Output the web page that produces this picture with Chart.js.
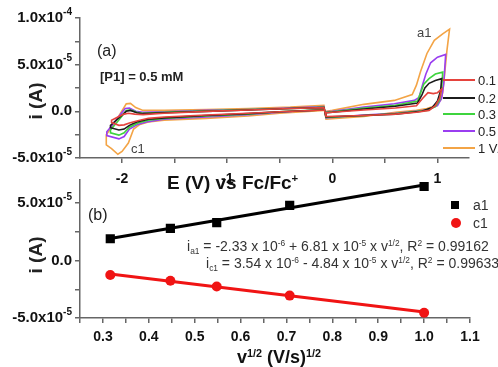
<!DOCTYPE html>
<html>
<head>
<meta charset="utf-8">
<script src="https://cdn.jsdelivr.net/npm/chart.js@4.4.1/dist/chart.umd.min.js"></script>
<style>
  html, body { margin: 0; padding: 0; background: #fff; width: 498px; height: 367px; overflow: hidden; }
  #wrap { position: relative; width: 498px; height: 367px; font-family: "Liberation Sans", Arial, sans-serif; color: #222; }
  canvas { position: absolute; left: 0; }
  .t { position: absolute; white-space: nowrap; line-height: 1; transform: translateY(-50%); }
  .t sup { font-size: 0.6em; line-height: 0; vertical-align: 0.6em; }
  .t sub { font-size: 0.6em; line-height: 0; vertical-align: -0.35em; }
  .ytitle { position: absolute; font-weight: bold; font-size: 19px; white-space: nowrap; line-height: 1; transform: translate(-50%, -50%) rotate(-90deg); }
  .ln { position: absolute; width: 32px; height: 2px; }
  .mk { position: absolute; }
</style>
</head>
<body>
<div id="wrap">
  <canvas id="cvChart" width="498" height="190" style="top:0"></canvas>
  <canvas id="fitChart" width="498" height="197" style="top:170px"></canvas>

  <!-- panel (a) texts -->
  <div class="ytitle" style="left:35px;top:101px">i (A)</div>
  <div class="t" style="left:97px;top:51px;font-size:16px">(a)</div>
  <div class="t" style="left:100px;top:76px;font-size:13px;font-weight:bold">[P1] = 0.5 mM</div>
  <div class="t" style="left:417px;top:32px;font-size:13px;color:#444">a1</div>
  <div class="t" style="left:131px;top:148px;font-size:13px;color:#444">c1</div>
  <div class="t" style="left:167px;top:182px;font-size:19px;font-weight:bold;color:#111">E (V) vs Fc/Fc<sup>+</sup></div>
  <div id="legendA"></div>

  <!-- panel (b) texts -->
  <div class="ytitle" style="left:35px;top:255px">i (A)</div>
  <div class="t" style="left:88px;top:215px;font-size:16px">(b)</div>
  <div class="t" style="left:187px;top:246px;font-size:14px;color:#333">i<sub>a1</sub> = -2.33 x 10<sup>-6</sup> + 6.81 x 10<sup>-5</sup> x v<sup>1/2</sup>, R<sup>2</sup> = 0.99162</div>
  <div class="t" style="left:206px;top:263px;font-size:14px;color:#333">i<sub>c1</sub> = 3.54 x 10<sup>-6</sup> - 4.84 x 10<sup>-5</sup> x v<sup>1/2</sup>, R<sup>2</sup> = 0.99633</div>
  <div class="mk" style="left:451px;top:201px;width:8px;height:8px;background:#000"></div>
  <div class="t" style="left:473px;top:205px;font-size:14px;color:#333">a1</div>
  <div class="mk" style="left:451px;top:218px;width:10px;height:10px;border-radius:50%;background:#f01414"></div>
  <div class="t" style="left:473px;top:223px;font-size:14px;color:#333">c1</div>
  <div class="t" style="left:237px;top:357px;font-size:18px;font-weight:bold;color:#111">v<sup>1/2</sup> (V/s)<sup>1/2</sup></div>
</div>

<script>
// scan rates (V/s) and their CV loops, potential in V vs Fc/Fc+, current in units of 1e-5 A
const scanLabels = ['0.1', '0.2', '0.3', '0.5', '1 V/s'];

const potential01 = [-0.08, -0.5, -0.8, -1.2, -1.6, -1.75, -1.85, -1.93, -1.98, -2.03, -2.10,
  -2.10, -2.04, -1.98, -1.94, -1.88, -1.8, -1.6, -1.2, -0.8, -0.4, -0.08,
  -0.06, 0.3, 0.6, 0.8, 0.92, 0.98, 1.02, 1.04,
  1.0, 0.96, 0.91, 0.86, 0.8, 0.6, 0.3, -0.06, -0.06];
const current01 = [0.15, -0.05, -0.2, -0.4, -0.6, -0.75, -1.0, -1.25, -1.45, -1.5, -1.2,
  -0.95, -0.6, -0.3, -0.2, -0.3, -0.35, -0.2, 0.0, 0.15, 0.3, 0.4,
  -0.55, -0.45, -0.3, -0.1, 0.1, 0.6, 1.4, 2.4,
  2.0, 1.9, 2.0, 1.4, 0.6, 0.35, 0.15, -0.15, -0.55];

const potential02 = [-0.08, -0.5, -0.8, -1.2, -1.6, -1.75, -1.85, -1.93, -1.98, -2.03, -2.11,
  -2.11, -2.05, -2.0, -1.96, -1.92, -1.86, -1.8, -1.6, -1.2, -0.8, -0.4, -0.08,
  -0.06, 0.3, 0.6, 0.85, 0.95, 1.0, 1.03, 1.04,
  0.98, 0.92, 0.88, 0.85, 0.81, 0.6, 0.3, 0.0, -0.06, -0.06];
const current02 = [0.15, -0.05, -0.25, -0.45, -0.7, -0.85, -1.1, -1.5, -1.9, -2.0, -1.75,
  -1.5, -0.9, -0.4, 0.0, 0.1, -0.15, -0.25, -0.15, 0.0, 0.15, 0.3, 0.4,
  -0.6, -0.45, -0.3, 0.0, 0.4, 1.1, 2.2, 3.5,
  3.3, 3.0, 2.5, 1.7, 0.9, 0.55, 0.25, -0.1, -0.15, -0.6];

const potential03 = [-0.08, -0.5, -0.8, -1.2, -1.6, -1.75, -1.85, -1.93, -1.98, -2.03, -2.11,
  -2.11, -2.05, -2.0, -1.96, -1.92, -1.86, -1.8, -1.6, -1.2, -0.8, -0.4, -0.08,
  -0.06, 0.3, 0.6, 0.9, 0.98, 1.02, 1.04, 1.05,
  0.98, 0.92, 0.87, 0.84, 0.81, 0.6, 0.3, 0.0, -0.06, -0.06];
const current03 = [0.2, -0.05, -0.3, -0.5, -0.75, -0.95, -1.25, -1.7, -2.3, -2.55, -2.3,
  -2.0, -1.2, -0.5, 0.1, 0.15, -0.1, -0.2, -0.1, 0.05, 0.2, 0.3, 0.45,
  -0.65, -0.45, -0.25, 0.1, 0.5, 1.2, 2.5, 4.2,
  4.0, 3.5, 2.9, 2.0, 1.1, 0.65, 0.35, -0.05, -0.1, -0.65];

const potential05 = [-0.08, -0.5, -0.8, -1.2, -1.6, -1.75, -1.85, -1.93, -1.98, -2.03, -2.145,
  -2.145, -2.08, -2.02, -1.97, -1.93, -1.87, -1.8, -1.6, -1.2, -0.8, -0.4, -0.08,
  -0.06, 0.3, 0.6, 0.9, 1.0, 1.04, 1.06, 1.078,
  1.0, 0.935, 0.89, 0.86, 0.825, 0.78, 0.59, 0.3, 0.0, -0.06, -0.06];
const current05 = [0.2, -0.1, -0.35, -0.6, -0.85, -1.1, -1.4, -1.9, -2.7, -2.95, -2.6,
  -2.2, -1.3, -0.4, 0.3, 0.35, 0.0, -0.1, -0.05, 0.1, 0.2, 0.35, 0.5,
  -0.7, -0.4, -0.2, 0.15, 0.6, 1.4, 3.0, 6.1,
  5.8, 5.2, 4.0, 2.9, 1.5, 1.17, 0.82, 0.45, 0.0, -0.05, -0.7];

const potential10 = [-0.08, -0.5, -0.8, -1.2, -1.6, -1.75, -1.83, -1.89, -1.94, -2.0, -2.04, -2.1, -2.15,
  -2.15, -2.08, -2.02, -1.96, -1.92, -1.87, -1.8, -1.6, -1.2, -0.8, -0.4, -0.08,
  -0.06, 0.3, 0.6, 0.8, 0.9, 0.98, 1.03, 1.05, 1.07, 1.09, 1.115,
  1.05, 0.97, 0.9, 0.84, 0.8, 0.76, 0.59, 0.3, 0.0, -0.06, -0.06];
const current10 = [0.1, -0.2, -0.5, -0.75, -0.95, -1.15, -1.4, -1.9, -3.4, -4.3, -4.6, -4.0, -3.6,
  -2.5, -1.4, -0.3, 0.8, 0.85, 0.4, 0.1, 0.1, 0.2, 0.3, 0.45, 0.65,
  -0.85, -0.55, -0.1, 0.1, 0.3, 0.6, 1.2, 2.0, 4.2, 6.5, 8.8,
  8.3, 7.6, 6.2, 4.3, 2.8, 1.8, 1.17, 0.75, 0.1, 0.0, -0.85];

// peak currents vs square root of scan rate, units of 1e-5 A
const sqrtRate = [0.316, 0.447, 0.548, 0.707, 1.0];
const peakA1 = [1.9, 2.8, 3.3, 4.8, 6.45];
const peakC1 = [-1.25, -1.75, -2.25, -3.05, -4.55];
// linear fits [intercept, slope], units of 1e-5 A
const fitA1 = [-0.233, 6.81];
const fitC1 = [0.354, -4.84];

// y tick labels (value in 1e-5 A, mantissa, exponent)
const yTicksA = [10, 5, 0, -5];
const yTextA = ['1.0x10', '5.0x10', '0.0', '-5.0x10'];
const yExpA = ['-4', '-5', '', '-5'];
const yTicksB = [5, 0, -5];
const yTextB = ['5.0x10', '0.0', '-5.0x10'];
const yExpB = ['-5', '', '-5'];

const cvPotentials = [potential01, potential02, potential03, potential05, potential10];
const cvCurrents = [current01, current02, current03, current05, current10];
const cvColors = ['#e5433d', '#1c1c1c', '#3ed43e', '#9a3ef0', '#f3a446'];

const FONT = '"Liberation Sans", Arial, sans-serif';
const AXIS = '#666';

// legend for panel (a)
const legendA = document.getElementById('legendA');
const legendY = [80, 98, 114, 131, 148];
scanLabels.forEach((lab, k) => {
  legendA.insertAdjacentHTML('beforeend',
    `<div class="ln" style="left:443px;top:${legendY[k] - 1}px;background:${cvColors[k]}"></div>` +
    `<div class="t" style="left:478px;top:${legendY[k]}px;font-size:13px;color:#222">${lab}</div>`);
});

// mantissa + superscript exponent on the y axis
const yTickText = {
  id: 'yTickText',
  afterDraw(chart, args, opts) {
    const ctx = chart.ctx;
    const scale = chart.scales.y;
    ctx.save();
    ctx.fillStyle = '#111';
    ctx.textBaseline = 'middle';
    ctx.textAlign = 'left';
    opts.values.forEach((v, k) => {
      const py = scale.getPixelForValue(v);
      const exp = opts.exps[k];
      ctx.font = 'bold 10px ' + FONT;
      const ew = exp ? ctx.measureText(exp).width : 0;
      if (exp) ctx.fillText(exp, opts.right - ew, py - 6);
      ctx.font = 'bold 15px ' + FONT;
      const bw = ctx.measureText(opts.texts[k]).width;
      ctx.fillText(opts.texts[k], opts.right - ew - bw, py);
    });
    ctx.restore();
  }
};

function axisOpts(extra) {
  return Object.assign({
    type: 'linear',
    grid: { display: true, drawOnChartArea: false, drawTicks: true, tickLength: 5, color: AXIS, lineWidth: 1.5 },
    border: { display: true, color: AXIS, width: 1.5 }
  }, extra);
}

new Chart(document.getElementById('cvChart'), {
  type: 'scatter',
  data: {
    datasets: cvCurrents.map((cur, k) => ({
      label: scanLabels[k],
      data: cur.map((c, j) => ({ x: cvPotentials[k][j], y: c })),
      showLine: true,
      borderColor: cvColors[k],
      borderWidth: 1.6,
      pointRadius: 0,
      tension: 0
    }))
  },
  options: {
    responsive: false,
    animation: false,
    layout: { padding: { top: 18, right: 29, left: 0, bottom: 0 } },
    plugins: {
      legend: { display: false },
      tooltip: { enabled: false },
      yTickText: { values: yTicksA, texts: yTextA, exps: yExpA, right: 72 }
    },
    scales: {
      x: axisOpts({
        min: -2.4, max: 1.3,
        ticks: {
          stepSize: 0.5, includeBounds: false, autoSkip: false, maxRotation: 0, padding: 8,
          color: '#111', font: { family: FONT, size: 14, weight: 'bold' },
          callback: v => Number.isInteger(v) ? String(v) : ''
        },
        afterFit: s => { s.height = 32; }
      }),
      y: axisOpts({
        min: -5, max: 10,
        ticks: { stepSize: 2.5, includeBounds: false, autoSkip: false, callback: () => '' },
        afterFit: s => { s.width = 80; }
      })
    }
  },
  plugins: [yTickText]
});

const fitLine = (fit) => [sqrtRate[0], sqrtRate[sqrtRate.length - 1]].map(x => ({ x: x, y: fit[0] + fit[1] * x }));

new Chart(document.getElementById('fitChart'), {
  type: 'scatter',
  data: {
    datasets: [
      { label: 'a1', data: sqrtRate.map((x, j) => ({ x: x, y: peakA1[j] })),
        pointStyle: 'rect', pointRadius: 6.5, backgroundColor: '#000', borderColor: '#000', borderWidth: 0 },
      { label: 'c1', data: sqrtRate.map((x, j) => ({ x: x, y: peakC1[j] })),
        pointStyle: 'circle', pointRadius: 5, backgroundColor: '#f01414', borderColor: '#f01414', borderWidth: 0 },
      { label: 'fit a1', data: fitLine(fitA1), showLine: true, borderColor: '#000', borderWidth: 3, pointRadius: 0 },
      { label: 'fit c1', data: fitLine(fitC1), showLine: true, borderColor: '#f01414', borderWidth: 3, pointRadius: 0 }
    ]
  },
  options: {
    responsive: false,
    animation: false,
    layout: { padding: { top: 7, right: 28, left: 0, bottom: 0 } },
    plugins: {
      legend: { display: false },
      tooltip: { enabled: false },
      yTickText: { values: yTicksB, texts: yTextB, exps: yExpB, right: 72 }
    },
    scales: {
      x: axisOpts({
        min: 0.25, max: 1.1,
        ticks: {
          stepSize: 0.05, autoSkip: false, maxRotation: 0, padding: 6,
          color: '#111', font: { family: FONT, size: 14, weight: 'bold' },
          callback: v => Math.abs(v * 10 - Math.round(v * 10)) < 1e-6 ? v.toFixed(1) : ''
        },
        afterFit: s => { s.height = 49; }
      }),
      y: axisOpts({
        min: -5, max: 7,
        ticks: { stepSize: 2.5, includeBounds: false, autoSkip: false, callback: () => '' },
        afterFit: s => { s.width = 80; }
      })
    }
  },
  plugins: [yTickText]
});
</script>
</body>
</html>
